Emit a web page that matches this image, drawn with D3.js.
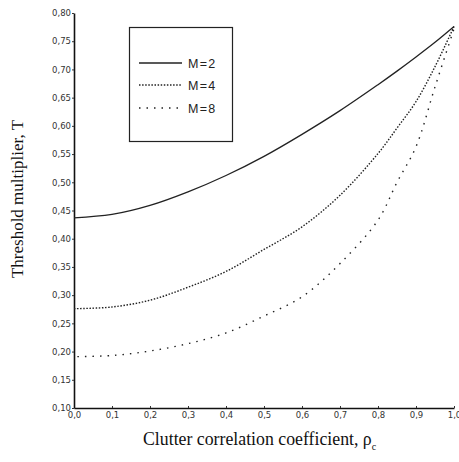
<!DOCTYPE html>
<html>
<head>
<meta charset="utf-8">
<script src="https://cdn.jsdelivr.net/npm/d3@7"></script>
<style>
  body { margin: 0; background: #fff; }
  .tick text { font-family: "DejaVu Sans", sans-serif; font-size: 8.5px; fill: #333; }
</style>
</head>
<body>
<div id="chart"></div>
<script>
var svgWidth = 459;
var svgHeight = 462;

// chart data
var rho = [0, 0.1, 0.2, 0.3, 0.4, 0.5, 0.6, 0.7, 0.8, 0.85, 0.9, 0.95, 1.0];
var m2 = [0.437, 0.443, 0.459, 0.483, 0.512, 0.546, 0.585, 0.627, 0.673, 0.697, 0.722, 0.748, 0.776];
var m4 = [0.276, 0.279, 0.291, 0.314, 0.342, 0.381, 0.421, 0.477, 0.551, 0.596, 0.643, 0.705, 0.776];
var m8 = [0.191, 0.193, 0.201, 0.214, 0.233, 0.263, 0.297, 0.356, 0.433, 0.500, 0.563, 0.669, 0.772];
var seriesNames = ["M=2", "M=4", "M=8"];
var xTicks = [0, 0.1, 0.2, 0.3, 0.4, 0.5, 0.6, 0.7, 0.8, 0.9, 1.0];
var yTicks = [0.10, 0.15, 0.20, 0.25, 0.30, 0.35, 0.40, 0.45, 0.50, 0.55, 0.60, 0.65, 0.70, 0.75, 0.80];

var dashes = [null, "1.5,1.6", "1.5,6"];

var svg = d3.select("#chart")
  .append("svg")
  .attr("width", svgWidth)
  .attr("height", svgHeight);

var x = d3.scaleLinear().domain([0, 1]).range([74, 454]);
var y = d3.scaleLinear().domain([0.10, 0.80]).range([408, 13]);

var fmt1 = function(d) { return d3.format(".1f")(d).replace(".", ","); };
var fmt2 = function(d) { return d3.format(".2f")(d).replace(".", ","); };

// axes
var xAxis = svg.append("g")
  .attr("transform", "translate(0," + y(0.10) + ")")
  .call(d3.axisBottom(x).tickValues(xTicks).tickFormat(fmt1).tickSizeInner(-2).tickSizeOuter(0).tickPadding(4));
var yAxis = svg.append("g")
  .attr("transform", "translate(" + x(0) + ",0)")
  .call(d3.axisLeft(y).tickValues(yTicks).tickFormat(fmt2).tickSizeInner(2).tickSizeOuter(0).tickPadding(1));
svg.selectAll(".domain").attr("stroke", "#111").attr("stroke-width", 1.6);
svg.selectAll(".tick line").attr("stroke", "#333");

// curves
var allSeries = [m2, m4, m8];
var line = d3.line()
  .x(function(d) { return x(d[0]); })
  .y(function(d) { return y(d[1]); })
  .curve(d3.curveCatmullRom.alpha(0.5));

allSeries.forEach(function(vals, i) {
  var pts = rho.map(function(r, j) { return [r, vals[j]]; });
  svg.append("path")
    .datum(pts)
    .attr("d", line)
    .attr("fill", "none")
    .attr("stroke", "#222")
    .attr("stroke-width", i === 0 ? 1.3 : 1.4)
    .attr("stroke-dasharray", dashes[i])
    .attr("stroke-dashoffset", i === 2 ? 4 : 0);
});

// legend
var legend = svg.append("g");
legend.append("rect")
  .attr("x", 129.5).attr("y", 27.5)
  .attr("width", 103).attr("height", 114)
  .attr("fill", "#fff")
  .attr("stroke", "#222")
  .attr("stroke-width", 1.2);
var legY = [63, 85, 108];
seriesNames.forEach(function(name, i) {
  legend.append("line")
    .attr("x1", 139).attr("x2", 182)
    .attr("y1", legY[i]).attr("y2", legY[i])
    .attr("stroke", "#222")
    .attr("stroke-width", 1.4)
    .attr("stroke-dasharray", dashes[i]);
  legend.append("text")
    .attr("x", 188).attr("y", legY[i] + 4.5)
    .style("font-family", "'Liberation Sans', Arial, sans-serif")
    .style("font-size", "12.5px")
    .style("letter-spacing", "1.3px")
    .attr("fill", "#222")
    .text(name);
});

// axis titles
svg.append("text")
  .attr("x", 143).attr("y", 445)
  .style("font-family", "'Liberation Serif', 'Times New Roman', serif")
  .style("font-size", "17.8px")
  .attr("fill", "#111")
  .text("Clutter correlation coefficient, ρ")
  .append("tspan")
  .attr("dy", 5)
  .style("font-size", "10px")
  .text("c");

svg.append("text")
  .attr("transform", "translate(23,199) rotate(-90)")
  .attr("text-anchor", "middle")
  .style("font-family", "'Liberation Serif', 'Times New Roman', serif")
  .style("font-size", "17px")
  .attr("fill", "#111")
  .text("Threshold multiplier, T");
</script>
</body>
</html>
